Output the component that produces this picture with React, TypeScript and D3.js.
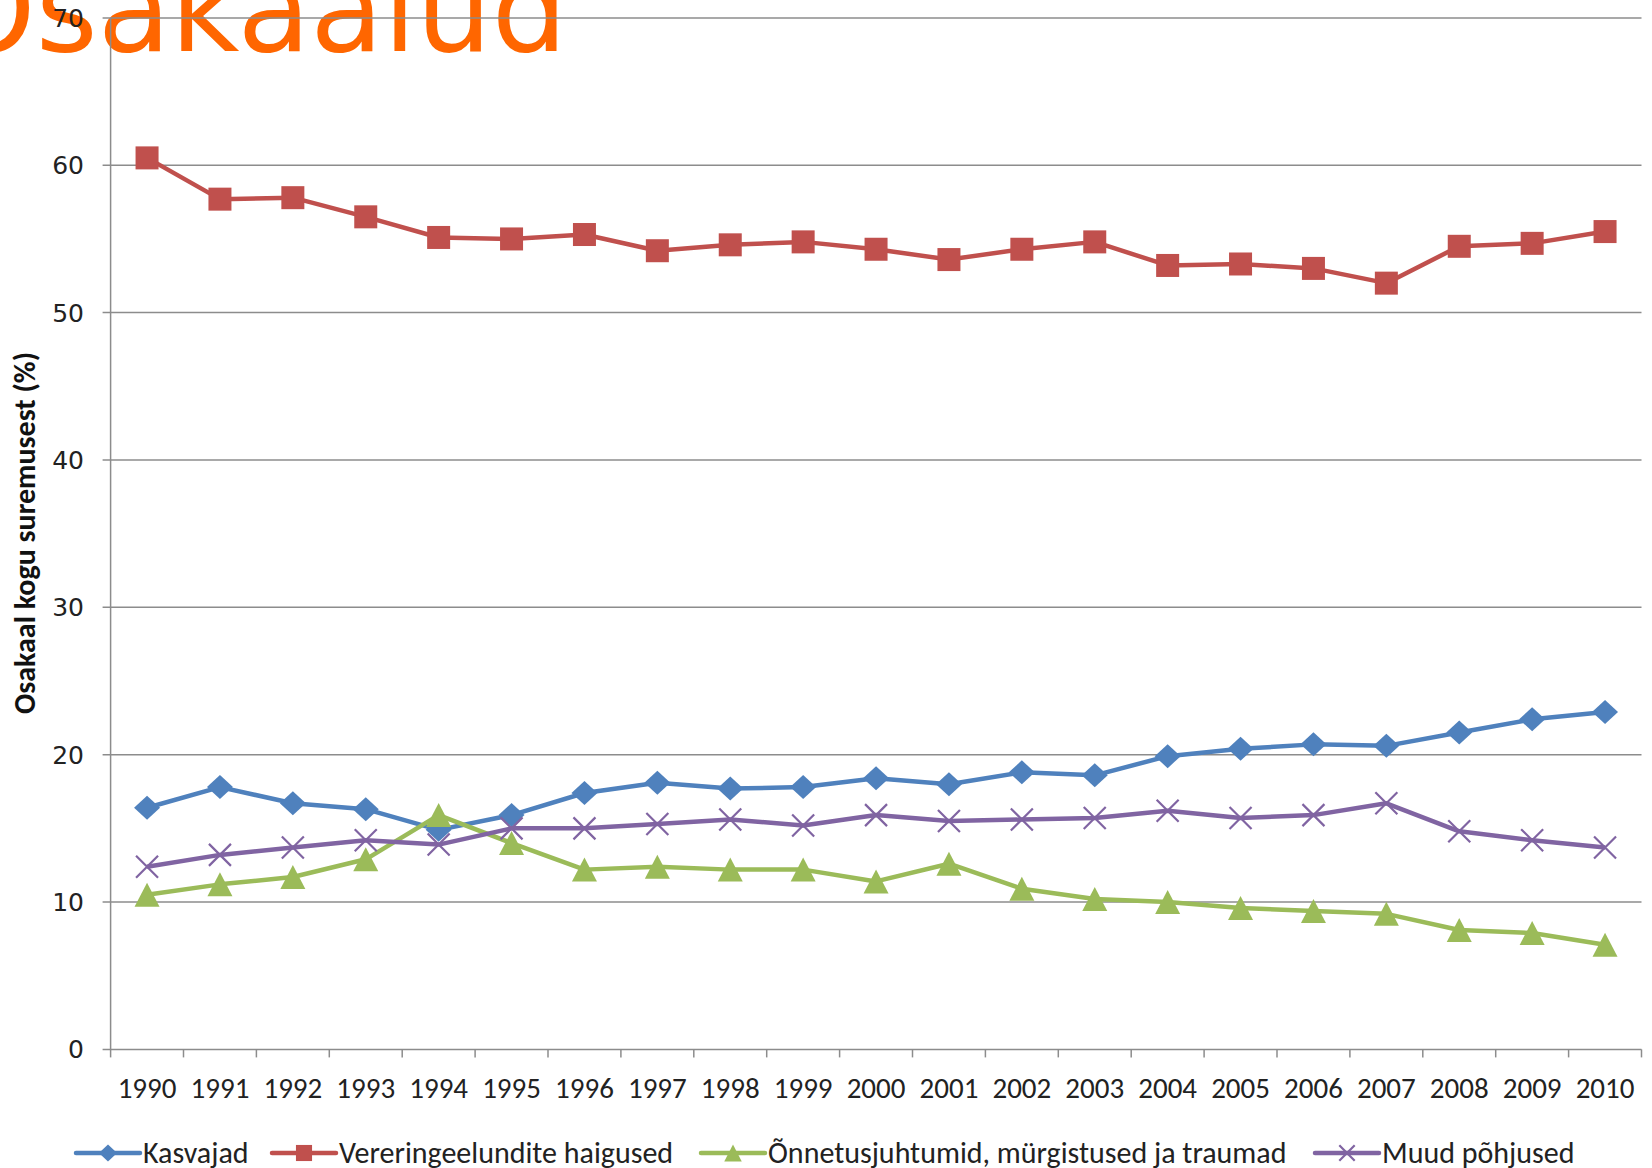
import React from "react";
import * as d3 from "d3";

const years = [
  "1990", "1991", "1992", "1993", "1994", "1995", "1996", "1997", "1998", "1999", "2000",
  "2001", "2002", "2003", "2004", "2005", "2006", "2007", "2008", "2009", "2010",
];

const kasvajad = [16.4, 17.8, 16.7, 16.3, 14.9, 15.9, 17.4, 18.1, 17.7, 17.8, 18.4, 18.0, 18.8, 18.6, 19.9, 20.4, 20.7, 20.6, 21.5, 22.4, 22.9];
const vereringe = [60.5, 57.7, 57.8, 56.5, 55.1, 55.0, 55.3, 54.2, 54.6, 54.8, 54.3, 53.6, 54.3, 54.8, 53.2, 53.3, 53.0, 52.0, 54.5, 54.7, 55.5];
const onnetus = [10.5, 11.2, 11.7, 12.9, 15.9, 14.0, 12.2, 12.4, 12.2, 12.2, 11.4, 12.6, 10.9, 10.2, 10.0, 9.6, 9.4, 9.2, 8.1, 7.9, 7.1];
const muud = [12.4, 13.2, 13.7, 14.2, 13.9, 15.0, 15.0, 15.3, 15.6, 15.2, 15.9, 15.5, 15.6, 15.7, 16.2, 15.7, 15.9, 16.7, 14.8, 14.2, 13.7];

const yTicks = [0, 10, 20, 30, 40, 50, 60, 70];

const series = [
  { name: "Kasvajad", values: kasvajad, color: "#4F81BD", marker: "diamond" },
  { name: "Vereringeelundite haigused", values: vereringe, color: "#C0504D", marker: "square" },
  { name: "Õnnetusjuhtumid, mürgistused ja traumad", values: onnetus, color: "#9BBB59", marker: "triangle" },
  { name: "Muud põhjused", values: muud, color: "#8064A2", marker: "x" },
];

const W = 1652;
const H = 1168;
const left = 110.6;
const right = 1641.5;
const top = 17.9;
const bottom = 1049.4;

const narrow = "Carlito, 'Liberation Sans Narrow', 'Open Sans', sans-serif";

function Marker({ type, x, y, color, s = 1 }) {
  if (type === "diamond") {
    const w = 13 * s, h = 12 * s;
    return <path d={`M${x - w},${y} L${x},${y - h} L${x + w},${y} L${x},${y + h} Z`} fill={color} />;
  }
  if (type === "square") {
    const a = 11.5 * s;
    return <rect x={x - a} y={y - a} width={a * 2} height={a * 2} fill={color} />;
  }
  if (type === "triangle") {
    const w = 12.5 * s, h = 12 * s;
    return <path d={`M${x},${y - h} L${x + w},${y + h} L${x - w},${y + h} Z`} fill={color} />;
  }
  const a = 11 * s;
  return (
    <path
      d={`M${x - a},${y - a} L${x + a},${y + a} M${x - a},${y + a} L${x + a},${y - a}`}
      stroke={color}
      strokeWidth={2.2}
      fill="none"
    />
  );
}

export default function App() {
  const x = d3.scaleBand().domain(years).range([left, right]);
  const y = d3.scaleLinear().domain([0, 70]).range([bottom, top]);
  const cx = (yr) => x(yr) + x.bandwidth() / 2;

  const line = d3
    .line()
    .x((d, i) => cx(years[i]))
    .y((d) => y(d));

  const bounds = years.map((yr) => x(yr)).concat([right]);

  const legendX = [76, 272, 701, 1315];
  const legendY = 1153;

  return (
    <svg width={W} height={H} style={{ position: "absolute", left: 0, top: 0, background: "#fff" }}>
      <text x={-58} y={51} fontFamily="'DejaVu Sans', sans-serif" fontSize={119} fill="#FF6600">
        Osakaalud
      </text>

      {/* gridlines */}
      {yTicks.map((t) => (
        <g key={t}>
          <line x1={left - 8} x2={right} y1={y(t)} y2={y(t)} stroke="#8c8c8c" strokeWidth={1.5} />
          <text
            x={84}
            y={y(t) + 9}
            textAnchor="end"
            fontFamily="'DejaVu Sans', sans-serif"
            fontSize={25}
            fill="#222"
          >
            {t}
          </text>
        </g>
      ))}
      <line x1={left} x2={left} y1={top} y2={bottom} stroke="#8c8c8c" strokeWidth={1.5} />
      {bounds.map((b, i) => (
        <line key={i} x1={b} x2={b} y1={bottom} y2={bottom + 8} stroke="#8c8c8c" strokeWidth={1.5} />
      ))}
      {years.map((yr) => (
        <text
          key={yr}
          x={cx(yr)}
          y={1098}
          textAnchor="middle"
          fontFamily={narrow}
          fontSize={29}
          fill="#222"
        >
          {yr}
        </text>
      ))}

      <text
        transform="translate(35,533) rotate(-90)"
        textAnchor="middle"
        fontFamily={narrow}
        fontWeight="bold"
        fontSize={30}
        fill="#111"
      >
        Osakaal kogu suremusest (%)
      </text>

      {series.map((s) => (
        <g key={s.name}>
          <path d={line(s.values)} fill="none" stroke={s.color} strokeWidth={4.5} strokeLinejoin="round" />
          {s.values.map((v, i) => (
            <Marker key={i} type={s.marker} x={cx(years[i])} y={y(v)} color={s.color} />
          ))}
        </g>
      ))}

      {/* legend */}
      {series.map((s, i) => (
        <g key={s.name}>
          <line
            x1={legendX[i]}
            x2={legendX[i] + 64}
            y1={legendY}
            y2={legendY}
            stroke={s.color}
            strokeWidth={4.5}
            strokeLinecap="round"
          />
          <Marker type={s.marker} x={legendX[i] + 32} y={legendY} color={s.color} s={0.7} />
          <text
            x={legendX[i] + 67}
            y={legendY + 10}
            fontFamily={narrow}
            fontSize={30}
            fill="#222"
          >
            {s.name}
          </text>
        </g>
      ))}
    </svg>
  );
}
